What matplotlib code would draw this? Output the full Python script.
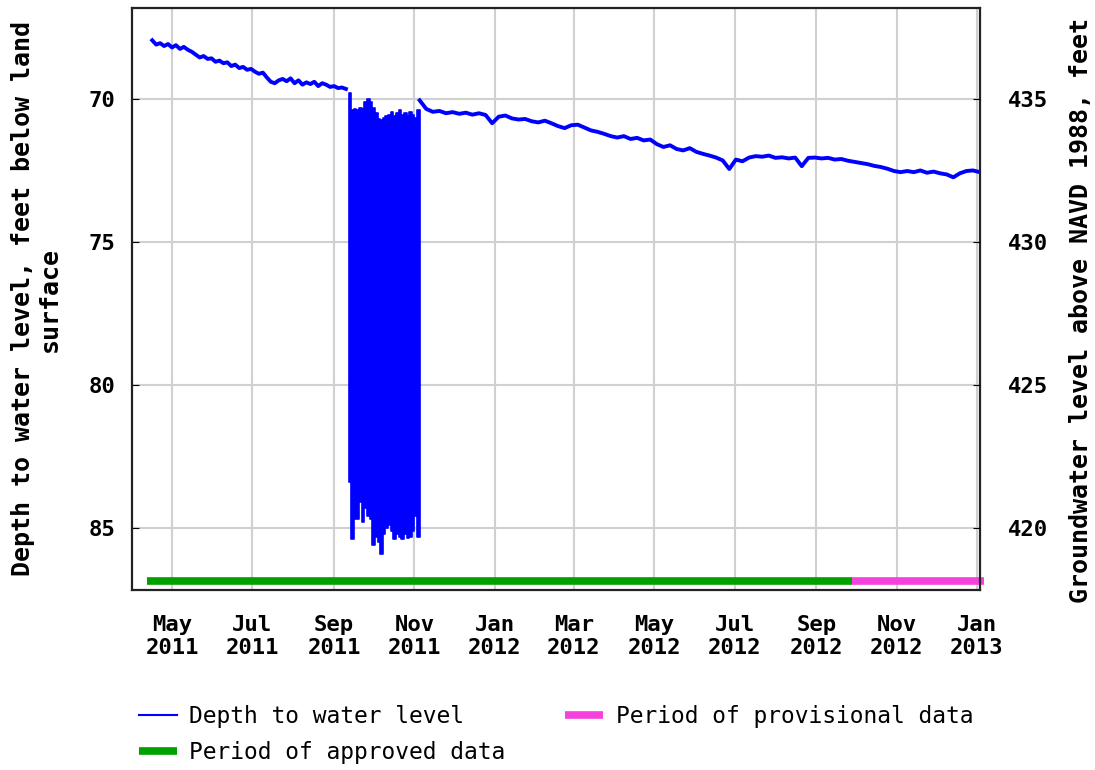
import matplotlib
matplotlib.use("Agg")
import matplotlib.pyplot as plt
import matplotlib.dates as mdates
import pandas as pd

# --- data ---
# before pumping: every 3 days from 2011-04-16
early_start = "2011-04-16"
early_depth = [67.95, 68.10, 68.05, 68.15, 68.08, 68.20, 68.12, 68.25, 68.18, 68.28,
               68.35, 68.45, 68.55, 68.50, 68.60, 68.58, 68.70, 68.66, 68.75, 68.72,
               68.85, 68.80, 68.92, 68.88, 68.98, 68.95, 69.05, 69.12, 69.08, 69.25,
               69.40, 69.45, 69.35, 69.30, 69.38, 69.28, 69.45, 69.35, 69.50, 69.42,
               69.48, 69.40, 69.55, 69.45, 69.50, 69.58, 69.55, 69.62, 69.60, 69.65]

# pumping cycles Sep-Nov 2011: envelope every 2 days
band_start = "2011-09-12"
band_top = [69.80, 70.40, 70.35, 70.40, 70.30, 70.35, 70.10, 70.00, 70.10, 70.30,
            70.50, 70.70, 70.75, 70.65, 70.60, 70.55, 70.45, 70.60, 70.50, 70.40,
            70.55, 70.50, 70.60, 70.45, 70.55, 70.65, 70.40, 70.85]
band_bot = [83.40, 85.40, 84.70, 84.70, 84.10, 84.80, 84.30, 84.60, 84.70, 85.60,
            85.30, 85.50, 85.90, 85.20, 85.00, 84.90, 85.10, 85.40, 85.20, 85.30,
            85.40, 85.20, 85.35, 85.30, 85.10, 84.60, 85.30, 84.50]

# after pumping: every 5 days from 2011-11-05
late_start = "2011-11-05"
late_depth = [70.05, 70.35, 70.45, 70.42, 70.50, 70.46, 70.52, 70.48, 70.55, 70.50,
              70.56, 70.85, 70.62, 70.58, 70.68, 70.72, 70.70, 70.78, 70.82, 70.76,
              70.85, 70.95, 71.02, 70.92, 70.90, 71.00, 71.10, 71.15, 71.22, 71.30,
              71.35, 71.30, 71.40, 71.36, 71.45, 71.42, 71.58, 71.68, 71.62, 71.75,
              71.80, 71.72, 71.85, 71.92, 71.98, 72.05, 72.15, 72.45, 72.12, 72.18,
              72.05, 72.00, 72.02, 71.98, 72.06, 72.04, 72.08, 72.05, 72.35, 72.06,
              72.05, 72.08, 72.06, 72.12, 72.10, 72.16, 72.20, 72.24, 72.28, 72.34,
              72.38, 72.44, 72.52, 72.56, 72.52, 72.56, 72.50, 72.58, 72.54, 72.60,
              72.64, 72.74, 72.60, 72.52, 72.50, 72.56]

approved_period = ("2011-04-12", "2012-09-28")
provisional_period = ("2012-09-28", "2013-01-06")
period_depth = 86.87

datum_offset = 505.0   # elevation = 505 - depth
left_ticks = [70, 75, 80, 85]
right_ticks = [420, 425, 430, 435]

early_dates = pd.date_range(early_start, periods=len(early_depth), freq="3D")
band_dates = pd.date_range(band_start, periods=len(band_top), freq="2D")
late_dates = pd.date_range(late_start, periods=len(late_depth), freq="5D")

FONT = "DejaVu Sans Mono"
BLUE = "#0000ff"
GRID = "#d0d0d0"

fig = plt.figure(figsize=(10.95, 7.70), dpi=100)
ax = fig.add_axes([132 / 1095, 1 - 590 / 770, 848 / 1095, 582 / 770])

line, = ax.plot(early_dates, early_depth, color=BLUE, lw=2.8)
ax.plot(late_dates, late_depth, color=BLUE, lw=2.8)
ax.fill_between(band_dates, band_top, band_bot, step="post", color=BLUE, lw=1.2)

appr, = ax.plot(pd.to_datetime(list(approved_period)), [period_depth] * 2,
                color="#00a000", lw=5.5, solid_capstyle="butt")
prov, = ax.plot(pd.to_datetime(list(provisional_period)), [period_depth] * 2,
                color="#f542dc", lw=5.5, solid_capstyle="butt", clip_on=False)

# x axis: one pixel ~ 1/1.3175 day
px_day = 1.3175
x0 = mdates.date2num(pd.Timestamp("2011-05-01")) - 40 / px_day
x1 = mdates.date2num(pd.Timestamp("2013-01-01")) + 3 / px_day
ax.set_xlim(x0, x1)
ax.xaxis.set_major_locator(mdates.MonthLocator(bymonth=[1, 3, 5, 7, 9, 11]))
ax.xaxis.set_major_formatter(mdates.DateFormatter("%b\n%Y"))

ax.set_ylim(87.17, 66.82)
ax.set_yticks(left_ticks)

ax.grid(True, color=GRID, lw=1.5)
ax.set_axisbelow(True)
for s in ax.spines.values():
    s.set_linewidth(1.6)
    s.set_color("#222222")

ax.tick_params(axis="x", direction="in", length=0, pad=18, labelsize=16)
ax.tick_params(axis="y", direction="in", length=5, pad=12, labelsize=16)
for lab in ax.get_xticklabels() + ax.get_yticklabels():
    lab.set_fontfamily(FONT)
    lab.set_fontweight("bold")

ax.set_ylabel("Depth to water level, feet below land\nsurface",
              fontfamily=FONT, fontweight="bold", fontsize=18, linespacing=1.15)
ax.yaxis.set_label_coords(-0.0825, 0.50)

ax2 = ax.twinx()
lo, hi = ax.get_ylim()
ax2.set_ylim(datum_offset - lo, datum_offset - hi)
ax2.set_yticks(right_ticks)
ax2.tick_params(axis="y", direction="in", length=5, pad=20, labelsize=16)
for lab in ax2.get_yticklabels():
    lab.set_fontfamily(FONT)
    lab.set_fontweight("bold")
for s in ax2.spines.values():
    s.set_visible(False)
ax2.set_ylabel("Groundwater level above NAVD 1988, feet",
               fontfamily=FONT, fontweight="bold", fontsize=18)
ax2.yaxis.set_label_coords(1.105, 0.481)

leg = fig.legend([line, appr, prov],
                 ["Depth to water level", "Period of approved data",
                  "Period of provisional data"],
                 loc="upper left", bbox_to_anchor=(139 / 1095, 1 - 705 / 770),
                 ncol=2, frameon=False, borderpad=0, borderaxespad=0,
                 handlelength=1.65, handletextpad=0.55, columnspacing=2.6,
                 labelspacing=0.55, prop={"family": FONT, "size": 16.5})
leg.get_lines()[0].set_linewidth(1.5)

fig.savefig("out.png", dpi=100)
